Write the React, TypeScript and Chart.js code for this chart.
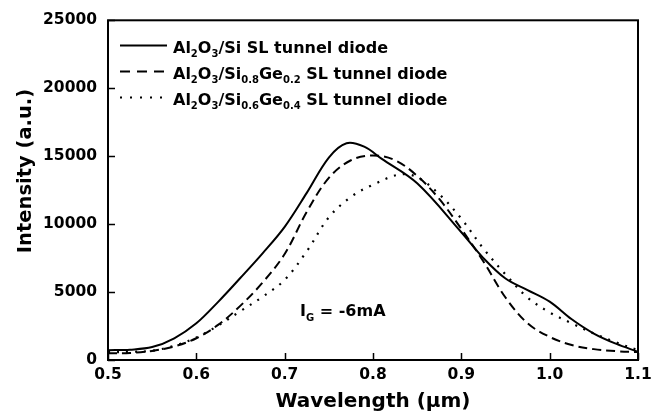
import React, { useEffect, useRef } from "react";
import { Chart, registerables } from "chart.js";

Chart.register(...registerables);

// ---- data ----
const siX = [0.5, 0.525, 0.55, 0.575, 0.6, 0.625, 0.65, 0.675, 0.7, 0.725, 0.75, 0.77, 0.79, 0.81, 0.85, 0.9, 0.925, 0.95, 0.975, 1.0, 1.025, 1.05, 1.075, 1.1];
const siY = [720, 760, 950, 1600, 2700, 4300, 6050, 7850, 9800, 12300, 14900, 15950, 15700, 14800, 13000, 9400, 7500, 6000, 5150, 4300, 3000, 1950, 1200, 600];

const ge02X = [0.5, 0.525, 0.55, 0.575, 0.6, 0.625, 0.65, 0.675, 0.7, 0.725, 0.75, 0.775, 0.8, 0.825, 0.85, 0.875, 0.9, 0.925, 0.95, 0.975, 1.0, 1.025, 1.05, 1.075, 1.1];
const ge02Y = [500, 520, 670, 1000, 1600, 2600, 4000, 5700, 7800, 10900, 13400, 14700, 15050, 14700, 13550, 11850, 9650, 7250, 4600, 2700, 1700, 1100, 800, 650, 580];

const ge04X = [0.5, 0.525, 0.55, 0.575, 0.6, 0.625, 0.65, 0.675, 0.7, 0.725, 0.75, 0.775, 0.8, 0.83, 0.85, 0.875, 0.9, 0.925, 0.95, 0.975, 1.0, 1.025, 1.05, 1.075, 1.1];
const ge04Y = [580, 600, 680, 1050, 1650, 2550, 3600, 4650, 5900, 8000, 10500, 12000, 12900, 13650, 13450, 12200, 10400, 8200, 6300, 4600, 3500, 2700, 1950, 1300, 720];

const xTickValues = [0.5, 0.6, 0.7, 0.8, 0.9, 1.0, 1.1];
const yTickValues = [0, 5000, 10000, 15000, 20000, 25000];

const xTitle = "Wavelength (\u03bcm)";
const yTitle = "Intensity (a.u.)";

type Part = { t: string; sub?: boolean };
const legendRows: { parts: Part[]; dash: number[] }[] = [
  { parts: [{ t: "Al" }, { t: "2", sub: true }, { t: "O" }, { t: "3", sub: true }, { t: "/Si SL tunnel diode" }], dash: [] },
  { parts: [{ t: "Al" }, { t: "2", sub: true }, { t: "O" }, { t: "3", sub: true }, { t: "/Si" }, { t: "0.8", sub: true }, { t: "Ge" }, { t: "0.2", sub: true }, { t: " SL tunnel diode" }], dash: [10, 7] },
  { parts: [{ t: "Al" }, { t: "2", sub: true }, { t: "O" }, { t: "3", sub: true }, { t: "/Si" }, { t: "0.6", sub: true }, { t: "Ge" }, { t: "0.4", sub: true }, { t: " SL tunnel diode" }], dash: [2, 8] },
];
const annotationParts: Part[] = [{ t: "I" }, { t: "G", sub: true }, { t: " = -6mA" }];

const FONT = "'DejaVu Sans', 'Liberation Sans', Arial, sans-serif";

function drawRich(ctx: CanvasRenderingContext2D, parts: Part[], x: number, baseline: number, size: number, subSize: number, subShift: number) {
  let cx = x;
  for (const p of parts) {
    ctx.font = `bold ${p.sub ? subSize : size}px ${FONT}`;
    ctx.fillText(p.t, cx, baseline + (p.sub ? subShift : 0));
    cx += ctx.measureText(p.t).width;
  }
}

const decorPlugin = {
  id: "decor",
  beforeDraw(chart: any) {
    const ctx = chart.ctx;
    ctx.save();
    ctx.fillStyle = "#fff";
    ctx.fillRect(0, 0, chart.width, chart.height);
    ctx.restore();
  },
  afterDraw(chart: any) {
    const { ctx, chartArea: a, scales } = chart;
    const xs = scales.x;
    const ys = scales.y;
    ctx.save();
    ctx.strokeStyle = "#000";
    ctx.fillStyle = "#000";
    ctx.setLineDash([]);
    ctx.lineWidth = 2;
    ctx.strokeRect(a.left, a.top, a.right - a.left, a.bottom - a.top);
    ctx.lineWidth = 1.5;
    ctx.beginPath();
    for (const v of yTickValues) {
      const py = Math.round(ys.getPixelForValue(v)) + 0.5;
      ctx.moveTo(a.left, py);
      ctx.lineTo(a.left + 7, py);
    }
    for (const v of xTickValues) {
      const px = Math.round(xs.getPixelForValue(v)) + 0.5;
      ctx.moveTo(px, a.bottom);
      ctx.lineTo(px, a.bottom - 7);
    }
    ctx.stroke();

    // y title
    ctx.save();
    ctx.translate(31, 171);
    ctx.rotate(-Math.PI / 2);
    ctx.font = `bold 19.5px ${FONT}`;
    ctx.textAlign = "center";
    ctx.textBaseline = "alphabetic";
    ctx.fillText(yTitle, 0, 0);
    ctx.restore();

    // legend
    ctx.textAlign = "left";
    ctx.textBaseline = "alphabetic";
    legendRows.forEach((row, i) => {
      const base = 53 + 26 * i;
      const ly = base - 7.5;
      ctx.lineWidth = 2;
      ctx.setLineDash(row.dash);
      ctx.beginPath();
      ctx.moveTo(120, ly);
      ctx.lineTo(167, ly);
      ctx.stroke();
      ctx.setLineDash([]);
      drawRich(ctx, row.parts, 173, base, 16, 10, 4);
    });

    // annotation
    drawRich(ctx, annotationParts, 300, 316, 16, 10, 5);
    ctx.restore();
  },
};

export default function App() {
  const ref = useRef<HTMLCanvasElement | null>(null);
  useEffect(() => {
    if (!ref.current) return;
    const toPts = (xs: number[], ys: number[]) => xs.map((x, i) => ({ x, y: ys[i] }));
    const tickFont = { family: FONT, size: 15.5, weight: "bold" as const };
    const chart = new Chart(ref.current, {
      type: "line",
      data: {
        datasets: [
          { label: "Al2O3/Si", data: toPts(siX, siY), borderColor: "#000", borderWidth: 2, pointRadius: 0, tension: 0.35, fill: false },
          { label: "Al2O3/Si0.8Ge0.2", data: toPts(ge02X, ge02Y), borderColor: "#000", borderWidth: 2, borderDash: [9, 5], pointRadius: 0, tension: 0.35, fill: false },
          { label: "Al2O3/Si0.6Ge0.4", data: toPts(ge04X, ge04Y), borderColor: "#000", borderWidth: 2.2, borderDash: [2, 7], pointRadius: 0, tension: 0.35, fill: false },
        ],
      },
      options: {
        responsive: false,
        animation: false,
        devicePixelRatio: 1,
        layout: { padding: { top: 15, right: 27, left: 0, bottom: 0 } },
        plugins: { legend: { display: false }, tooltip: { enabled: false } },
        scales: {
          x: {
            type: "linear",
            min: 0.5,
            max: 1.1,
            afterBuildTicks: (s: any) => { s.ticks = xTickValues.map((v) => ({ value: v })); },
            afterFit: (s: any) => { s.height = 58; },
            grid: { display: false, drawTicks: false },
            border: { display: false },
            ticks: { color: "#000", font: tickFont, padding: 6, maxRotation: 0, autoSkip: false, callback: (v: any) => Number(v).toFixed(1) },
            title: { display: true, text: xTitle, color: "#000", font: { family: FONT, size: 20, weight: "bold" }, padding: { top: 0, bottom: 4 } },
          },
          y: {
            type: "linear",
            min: 0,
            max: 25000,
            afterBuildTicks: (s: any) => { s.ticks = yTickValues.map((v) => ({ value: v })); },
            afterFit: (s: any) => { s.width = 108; },
            grid: { display: false, drawTicks: false },
            border: { display: false },
            ticks: { color: "#000", font: tickFont, padding: 11, autoSkip: false, callback: (v: any) => String(v) },
          },
        },
      },
      plugins: [decorPlugin],
    });
    return () => chart.destroy();
  }, []);
  return (
    <div style={{ position: "absolute", left: 0, top: 0, width: 665, height: 418 }}>
      <canvas ref={ref} width={665} height={418} style={{ display: "block" }} />
    </div>
  );
}
